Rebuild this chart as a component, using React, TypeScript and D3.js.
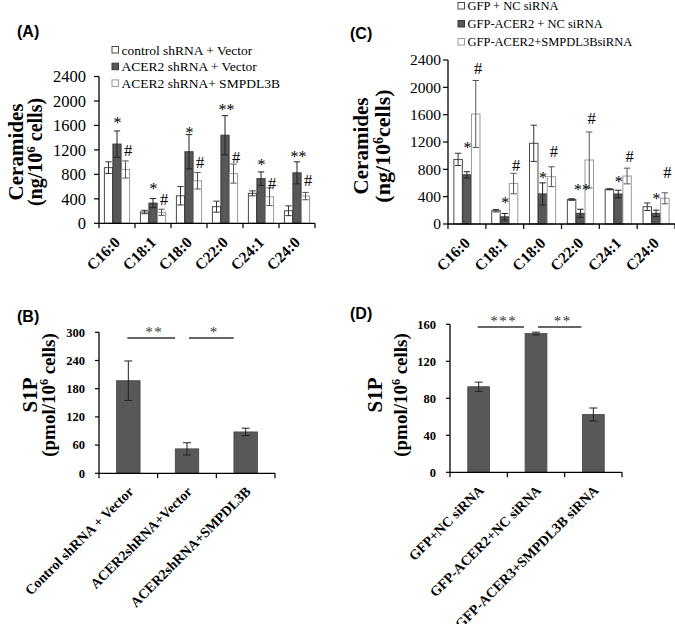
import React from "react";
import * as d3 from "d3";

const W = 675;
const H = 624;
const SERIF = "'Liberation Serif','Times New Roman',serif";
const SANS = "'Liberation Sans',Arial,sans-serif";

// ---------- Panel A / C categories ----------
const ceramideCats = ["C16:0", "C18:1", "C18:0", "C22:0", "C24:1", "C24:0"];
const ceramideTicks = [0, 400, 800, 1200, 1600, 2000, 2400];

// Panel A
const seriesNamesA = ["control shRNA + Vector", "ACER2 shRNA + Vector", "ACER2 shRNA+ SMPDL3B"];
const aControl = [910, 185, 450, 272, 490, 205];
const aControlErr = [95, 28, 150, 90, 40, 80];
const aAcer2 = [1295, 330, 1170, 1440, 730, 825];
const aAcer2Err = [215, 75, 280, 320, 110, 180];
const aSmpdl = [880, 180, 696, 812, 434, 445];
const aSmpdlErr = [140, 50, 135, 155, 145, 60];
const aMarkCat = [0, 0, 1, 1, 2, 2, 3, 3, 4, 4, 5, 5];
const aMarkSeries = [1, 2, 1, 2, 1, 2, 1, 2, 1, 2, 1, 2];
const aMarkText = ["*", "#", "*", "#", "*", "#", "**", "#", "*", "#", "**", "#"];
const aMarkValue = [1686, 1197, 609, 397, 1523, 1001, 1899, 1082, 1001, 658, 1131, 707];

// Panel C
const seriesNamesC = ["GFP + NC siRNA", "GFP-ACER2 + NC siRNA", "GFP-ACER2+SMPDL3BsiRNA"];
const cGfp = [945, 195, 1181, 358, 508, 253];
const cGfpErr = [90, 18, 265, 12, 8, 55];
const cAcer2 = [720, 105, 440, 156, 439, 156];
const cAcer2Err = [45, 48, 162, 60, 55, 47];
const cSmpdl = [1610, 592, 692, 937, 702, 376];
const cSmpdlErr = [490, 150, 145, 410, 115, 80];
const cMarkCat = [0, 0, 1, 1, 2, 2, 3, 3, 4, 4, 5, 5];
const cMarkSeries = [1, 2, 1, 2, 1, 2, 1, 2, 1, 2, 1, 2];
const cMarkText = ["*", "#", "*", "#", "*", "#", "**", "#", "*", "#", "*", "#"];
const cMarkValue = [1162, 2283, 351, 853, 717, 1058, 537, 1546, 659, 995, 410, 751];

// Panel B
const bCats = ["Control shRNA + Vector", "ACER2shRNA+Vector", "ACER2shRNA+SMPDL3B"];
const bValues = [197, 52, 88];
const bErr = [42, 13, 8];
const bTicks = [0, 60, 120, 180, 240, 300];
const bSigFrom = [0, 1];
const bSigTo = [1, 2];
const bSigText = ["**", "*"];
const bSigValue = [288, 288];

// Panel D
const dCats = ["GFP+NC siRNA", "GFP-ACER2+NC siRNA", "GFP-ACER3+SMPDL3B siRNA"];
const dValues = [92.5, 150, 62.5];
const dErr = [5, 1.5, 7];
const dTicks = [0, 40, 80, 120, 160];
const dSigFrom = [0, 1];
const dSigTo = [1, 2];
const dSigText = ["***", "**"];
const dSigValue = [157, 157];

const DARK = "#585858";

type SeriesStyle = { fill: string; stroke: string; err: string };
const groupStyles: SeriesStyle[] = [
  { fill: "#ffffff", stroke: "#4a4a4a", err: "#333" },
  { fill: DARK, stroke: "#3a3a3a", err: "#222" },
  { fill: "#ffffff", stroke: "#9a9a9a", err: "#555" },
];

type GroupedProps = {
  x0: number; x1: number; yTopPx: number; y0Px: number; max: number;
  series: number[][]; errs: number[][]; names: string[];
  markCat: number[]; markSeries: number[]; markText: string[]; markValue: number[];
  tickFont: number; tickGap: number; labelFont: number;
  legendX: number; legendY: number; legendStep: number; legendFont: number;
  title1X: number; title2X: number; titleY: number; title1Size: number; title2Size: number;
  title2: React.ReactNode;
  panel: string; panelX: number; panelY: number; padInner: number;
};

function GroupedPanel(p: GroupedProps) {
  const x = d3.scaleBand<string>().domain(ceramideCats).range([p.x0, p.x1]).paddingInner(p.padInner).paddingOuter(p.padInner / 2);
  const xs = d3.scaleBand<number>().domain([0, 1, 2]).range([0, x.bandwidth()]).paddingInner(0.04);
  const y = d3.scaleLinear().domain([0, p.max]).range([p.y0Px, p.yTopPx]);
  const step = x.step();
  const boundaries = d3.range(ceramideCats.length + 1).map((i) => p.x0 + i * step);
  const cap = 3.2;
  return (
    <g>
      <text x={p.panelX} y={p.panelY} fontFamily={SANS} fontWeight="bold" fontSize={16}>{p.panel}</text>
      {/* legend */}
      {p.names.map((n, i) => (
        <g key={n}>
          <rect x={p.legendX} y={p.legendY + i * p.legendStep - 3.5} width={6.5} height={6.5}
            fill={groupStyles[i].fill} stroke={groupStyles[i].stroke} strokeWidth={1} />
          <text x={p.legendX + 9.5} y={p.legendY + i * p.legendStep} dy="0.35em" fontFamily={SERIF} fontSize={p.legendFont}>{n}</text>
        </g>
      ))}
      {/* bars */}
      {p.series.map((vals, si) => (
        <g key={si}>
          {vals.map((v, ci) => {
            const bx = (x(ceramideCats[ci]) as number) + (xs(si) as number);
            const bw = xs.bandwidth();
            const cx = bx + bw / 2;
            const e = p.errs[si][ci];
            const st = groupStyles[si];
            return (
              <g key={ci}>
                <rect x={bx} y={y(v)} width={bw} height={p.y0Px - y(v)} fill={st.fill} stroke={st.stroke} strokeWidth={1} />
                <line x1={cx} x2={cx} y1={y(v - e)} y2={y(v + e)} stroke={st.err} strokeWidth={1} />
                <line x1={cx - cap} x2={cx + cap} y1={y(v + e)} y2={y(v + e)} stroke={st.err} strokeWidth={1} />
                <line x1={cx - cap} x2={cx + cap} y1={y(v - e)} y2={y(v - e)} stroke={st.err} strokeWidth={1} />
              </g>
            );
          })}
        </g>
      ))}
      {/* markers */}
      {p.markText.map((t, i) => {
        const ci = p.markCat[i];
        const si = p.markSeries[i];
        const cx = (x(ceramideCats[ci]) as number) + (xs(si) as number) + xs.bandwidth() / 2;
        const isHash = t === "#";
        const fs = isHash ? 16.5 : 16;
        const yy = y(p.markValue[i]) + (isHash ? 5.6 : 8);
        return (
          <text key={i} x={cx + (isHash ? 2.5 : t.length > 1 ? 1.5 : 0.5)} y={yy} textAnchor="middle" fontFamily={SERIF}
            fontSize={fs} fill="#000">{t}</text>
        );
      })}
      {/* axes */}
      <line x1={p.x0} x2={p.x0} y1={p.yTopPx} y2={p.y0Px} stroke="#000" strokeWidth={1.3} />
      <line x1={p.x0} x2={p.x1} y1={p.y0Px} y2={p.y0Px} stroke="#000" strokeWidth={1.3} />
      {ceramideTicks.map((t) => (
        <g key={t}>
          <line x1={p.x0 - 5} x2={p.x0} y1={y(t)} y2={y(t)} stroke="#000" strokeWidth={1.2} />
          <text x={p.x0 - p.tickGap} y={y(t)} dy="0.35em" textAnchor="end" fontFamily={SERIF} fontSize={p.tickFont}>{t}</text>
        </g>
      ))}
      {boundaries.map((bx, i) => (
        <line key={i} x1={bx} x2={bx} y1={p.y0Px} y2={p.y0Px + 5} stroke="#000" strokeWidth={1.2} />
      ))}
      {ceramideCats.map((c) => {
        const cx = (x(c) as number) + x.bandwidth() / 2;
        return (
          <text key={c} transform={`translate(${cx + 4},${p.y0Px + 20}) rotate(-45)`} textAnchor="end"
            fontFamily={SERIF} fontWeight="bold" fontSize={p.labelFont}>{c}</text>
        );
      })}
      {/* y titles */}
      <text transform={`translate(${p.title1X},${p.titleY}) rotate(-90)`} textAnchor="middle" dy="0.35em"
        fontFamily={SERIF} fontWeight="bold" fontSize={p.title1Size}>Ceramides</text>
      <text transform={`translate(${p.title2X},${p.titleY}) rotate(-90)`} textAnchor="middle" dy="0.35em"
        fontFamily={SERIF} fontWeight="bold" fontSize={p.title2Size}>{p.title2}</text>
    </g>
  );
}

type SimpleProps = {
  x0: number; x1: number; yTopPx: number; y0Px: number; max: number;
  cats: string[]; values: number[]; errs: number[]; ticks: number[];
  sigFrom: number[]; sigTo: number[]; sigText: string[]; sigValue: number[];
  panel: string; panelX: number; panelY: number; tickGap: number;
  t1X: number; t2X: number; tY: number; padInner: number;
};

function SimplePanel(p: SimpleProps) {
  const x = d3.scaleBand<string>().domain(p.cats).range([p.x0, p.x1]).paddingInner(p.padInner).paddingOuter(p.padInner / 2);
  const y = d3.scaleLinear().domain([0, p.max]).range([p.y0Px, p.yTopPx]);
  const step = x.step();
  const boundaries = d3.range(p.cats.length + 1).map((i) => p.x0 + i * step);
  const cap = 4;
  const center = (i: number) => (x(p.cats[i]) as number) + x.bandwidth() / 2;
  return (
    <g>
      <text x={p.panelX} y={p.panelY} fontFamily={SANS} fontWeight="bold" fontSize={16}>{p.panel}</text>
      {p.values.map((v, i) => {
        const bx = x(p.cats[i]) as number;
        const cx = center(i);
        const e = p.errs[i];
        return (
          <g key={i}>
            <rect x={bx} y={y(v)} width={x.bandwidth()} height={p.y0Px - y(v)} fill={DARK} stroke="#444" strokeWidth={0.8} />
            <line x1={cx} x2={cx} y1={y(v - e)} y2={y(v + e)} stroke="#222" strokeWidth={1} />
            <line x1={cx - cap} x2={cx + cap} y1={y(v + e)} y2={y(v + e)} stroke="#222" strokeWidth={1} />
            <line x1={cx - cap} x2={cx + cap} y1={y(v - e)} y2={y(v - e)} stroke="#222" strokeWidth={1} />
          </g>
        );
      })}
      {p.sigText.map((t, i) => {
        const xa = center(p.sigFrom[i]) + (i === 0 ? -1 : 2);
        const xb = center(p.sigTo[i]) - 12;
        const yy = y(p.sigValue[i]);
        return (
          <g key={i}>
            <line x1={xa} x2={xb} y1={yy} y2={yy} stroke="#333" strokeWidth={1.5} />
            <text x={(xa + xb) / 2 + 3} y={yy - 1} textAnchor="middle" fontFamily={SERIF} fontSize={15} fill="#333" letterSpacing={1.5}>{t}</text>
          </g>
        );
      })}
      <line x1={p.x0} x2={p.x0} y1={p.yTopPx} y2={p.y0Px} stroke="#000" strokeWidth={1.3} />
      <line x1={p.x0} x2={p.x1} y1={p.y0Px} y2={p.y0Px} stroke="#000" strokeWidth={1.3} />
      {p.ticks.map((t) => (
        <g key={t}>
          <line x1={p.x0 - 4} x2={p.x0} y1={y(t)} y2={y(t)} stroke="#000" strokeWidth={1.2} />
          <text x={p.x0 - p.tickGap} y={y(t)} dy="0.35em" textAnchor="end" fontFamily={SERIF} fontWeight="bold" fontSize={12.5}>{t}</text>
        </g>
      ))}
      {boundaries.map((bx, i) => (
        <line key={i} x1={bx} x2={bx} y1={p.y0Px} y2={p.y0Px + 5} stroke="#000" strokeWidth={1.2} />
      ))}
      {p.cats.map((c, i) => (
        <text key={c} transform={`translate(${center(i) + 6},${p.y0Px + 19}) rotate(-45)`} textAnchor="end"
          fontFamily={SERIF} fontWeight="bold" fontSize={14}>{c}</text>
      ))}
      <text transform={`translate(${p.t1X},${p.tY}) rotate(-90)`} textAnchor="middle" dy="0.35em"
        fontFamily={SERIF} fontWeight="bold" fontSize={21}>S1P</text>
      <text transform={`translate(${p.t2X},${p.tY}) rotate(-90)`} textAnchor="middle" dy="0.35em"
        fontFamily={SERIF} fontWeight="bold" fontSize={19}>
        (pmol/10<tspan baseline-shift="super" fontSize={12}>6</tspan> cells)
      </text>
    </g>
  );
}

export default function App() {
  return (
    <svg width={W} height={H} viewBox={`0 0 ${W} ${H}`} style={{ position: "absolute", left: 0, top: 0, background: "#fff" }}>
      <rect width={W} height={H} fill="#fff" />
      <GroupedPanel
        x0={99} x1={315} yTopPx={76.5} y0Px={223.3} max={2400}
        series={[aControl, aAcer2, aSmpdl]} errs={[aControlErr, aAcer2Err, aSmpdlErr]} names={seriesNamesA}
        markCat={aMarkCat} markSeries={aMarkSeries} markText={aMarkText} markValue={aMarkValue}
        tickFont={16.5} tickGap={13} labelFont={15.5}
        legendX={112} legendY={50} legendStep={16.7} legendFont={13.5}
        title1X={16} title2X={35} titleY={152} title1Size={21} title2Size={20}
        title2={<>(ng/10<tspan baseline-shift="super" fontSize={13}>6</tspan> cells)</>}
        panel="(A)" panelX={17} panelY={37} padInner={0.3}
      />
      <GroupedPanel
        x0={448} x1={675} yTopPx={60} y0Px={224} max={2400}
        series={[cGfp, cAcer2, cSmpdl]} errs={[cGfpErr, cAcer2Err, cSmpdlErr]} names={seriesNamesC}
        markCat={cMarkCat} markSeries={cMarkSeries} markText={cMarkText} markValue={cMarkValue}
        tickFont={15.5} tickGap={7} labelFont={15.5}
        legendX={458} legendY={6} legendStep={18} legendFont={12.5}
        title1X={361} title2X={382} titleY={146} title1Size={21} title2Size={22}
        title2={<>(ng/10<tspan baseline-shift="super" fontSize={14}>6</tspan>cells)</>}
        panel="(C)" panelX={350} panelY={39} padInner={0.31}
      />
      <SimplePanel
        x0={99} x1={275} yTopPx={332.3} y0Px={473.3} max={300}
        cats={bCats} values={bValues} errs={bErr} ticks={bTicks}
        sigFrom={bSigFrom} sigTo={bSigTo} sigText={bSigText} sigValue={bSigValue}
        panel="(B)" panelX={17} panelY={322} tickGap={14}
        t1X={30} t2X={48} tY={395} padInner={0.6}
      />
      <SimplePanel
        x0={450} x1={622} yTopPx={324.3} y0Px={472.3} max={160}
        cats={dCats} values={dValues} errs={dErr} ticks={dTicks}
        sigFrom={dSigFrom} sigTo={dSigTo} sigText={dSigText} sigValue={dSigValue}
        panel="(D)" panelX={350} panelY={319} tickGap={14}
        t1X={375} t2X={400} tY={395} padInner={0.62}
      />
    </svg>
  );
}
